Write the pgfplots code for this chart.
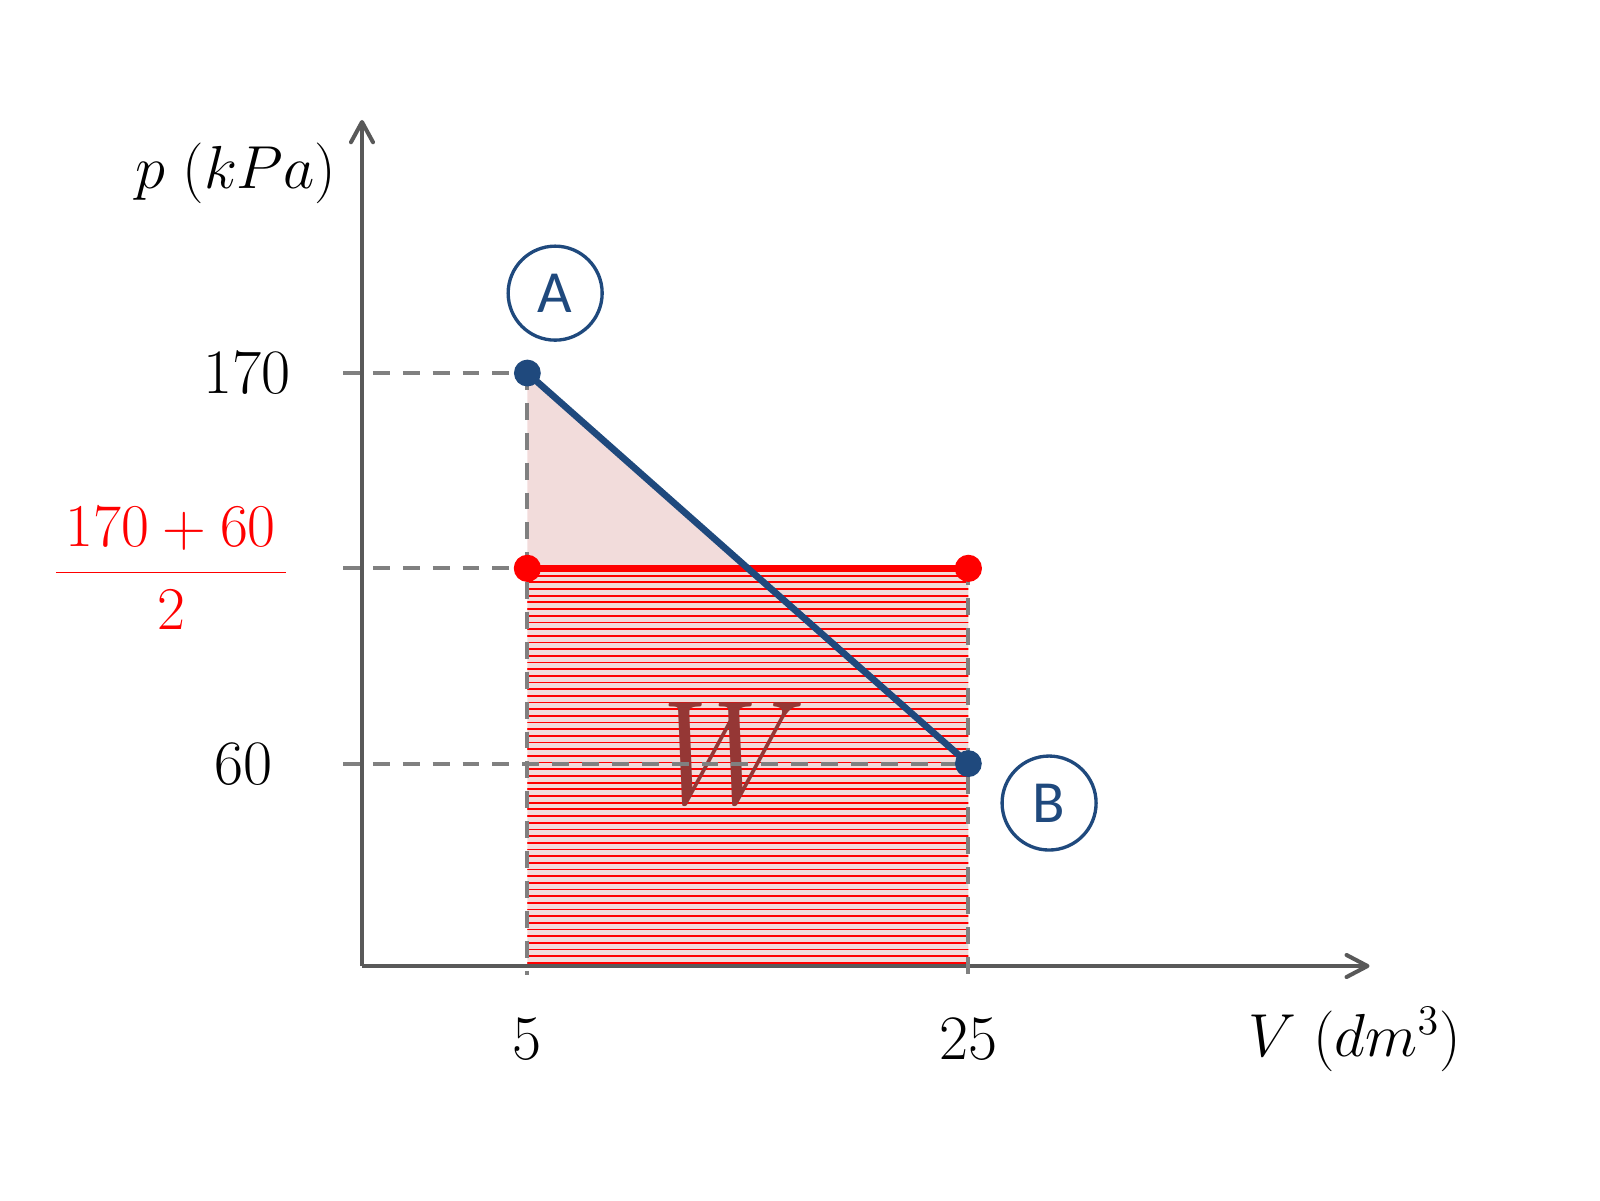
\documentclass[border=0pt]{standalone}
\usepackage{fontspec}
\newfontfamily\carlito{Carlito}
\usepackage{pgfplots}
\pgfplotsset{compat=1.18}
\usetikzlibrary{patterns}
\pgfdeclarepatternformonly{densehlines}{\pgfqpoint{-0.1pt}{0pt}}{\pgfqpoint{3.1pt}{1.9pt}}{\pgfqpoint{3pt}{1.9pt}}{\pgfsetlinewidth{0.5pt}\pgfpathmoveto{\pgfqpoint{-0.1pt}{0.95pt}}\pgfpathlineto{\pgfqpoint{3.1pt}{0.95pt}}\pgfusepath{stroke}}
\definecolor{axgray}{HTML}{595959}
\definecolor{dashgray}{HTML}{808080}
\definecolor{pinkfill}{HTML}{F2DCDB}
\definecolor{dblue}{HTML}{1F497D}
\definecolor{wred}{HTML}{953735}
\begin{document}
\begin{tikzpicture}
\path[use as bounding box] (-3.62,-2.34) rectangle (12.38,9.66);
\begin{axis}[
  at={(0,0)}, anchor=south west,
  x=0.2205cm, y=0.03551cm,
  xmin=-2.5, xmax=43.1, ymin=3, ymax=240.7,
  axis lines=none,
  clip=false,
]
\addplot[fill=pinkfill, draw=none] coordinates {(5,170) (5,115) (15,115) (5,170)};
\addplot[fill=pinkfill, draw=none] coordinates {(5,3) (25,3) (25,115) (5,115) (5,3)};
\addplot[draw=none, pattern=densehlines, pattern color=red] coordinates {(5,3) (25,3) (25,115) (5,115) (5,3)};
\node[text=wred, font=\fontsize{42}{48}\selectfont\itshape, inner sep=0pt] at (axis cs:13.3,62.4) {W};
% axes with open arrow heads
\addplot[draw=axgray, line width=1.15pt] coordinates {(-2.5,3) (43.05,3)};
\addplot[draw=axgray, line width=1.15pt] coordinates {(-2.5,3) (-2.5,240.5)};
\addplot[draw=axgray, line width=1.15pt, line join=round, line cap=round] coordinates {(42.15,6.1) (43.1,3) (42.15,-0.1)};
\addplot[draw=axgray, line width=1.15pt, line join=round, line cap=round] coordinates {(-3.0,235.0) (-2.5,240.7) (-2.0,235.0)};
% dashed guide lines
\addplot[draw=dashgray, line width=1.15pt, dash pattern=on 4.8pt off 3.7pt] coordinates {(-3.36,170) (5,170)};
\addplot[draw=dashgray, line width=1.15pt, dash pattern=on 4.8pt off 3.7pt] coordinates {(-3.36,115) (5,115)};
\addplot[draw=dashgray, line width=1.15pt, dash pattern=on 4.8pt off 3.7pt] coordinates {(-3.36,60) (25,60)};
\addplot[draw=dashgray, line width=1.15pt, dash pattern=on 4.8pt off 3.7pt] coordinates {(5,170) (5,0.5)};
\addplot[draw=dashgray, line width=1.15pt, dash pattern=on 4.8pt off 3.7pt] coordinates {(25,115) (25,0.5)};
% average pressure and process A-B
\addplot[draw=red, line width=2pt, mark=*, mark size=2.85pt, mark options={fill=red, draw=red}] coordinates {(5,115) (25,115)};
\addplot[draw=dblue, line width=1.9pt, mark=*, mark size=2.85pt, mark options={fill=dblue, draw=dblue}] coordinates {(5,170) (25,60)};
% tick labels and axis labels
\node[font=\fontsize{18}{22}\selectfont, anchor=east, inner sep=0pt] at (axis cs:-5.72,170) {170};
\node[font=\fontsize{18}{22}\selectfont, anchor=east, inner sep=0pt] at (axis cs:-6.54,60) {60};
\node[font=\fontsize{18}{22}\selectfont, anchor=east, inner sep=0pt, text=red] at (axis cs:-5.72,115) {${\displaystyle\frac{\,170+60\,}{2}}$};
\node[font=\fontsize{18}{22}\selectfont, anchor=center, inner sep=0pt] at (axis cs:5,-17.6) {5};
\node[font=\fontsize{18}{22}\selectfont, anchor=center, inner sep=0pt] at (axis cs:25,-17.6) {25};
\node[font=\fontsize{18}{22}\selectfont, anchor=center, inner sep=0pt] at (axis cs:42.53,-17.6) {$V\;(dm^3)$};
\node[font=\fontsize{18}{22}\selectfont, anchor=center, inner sep=0pt] at (axis cs:-8.21,226.3) {$p\;(kPa)$};
% state labels
\node[circle, draw=dblue, line width=0.95pt, minimum size=0.94cm, inner sep=0pt, text=dblue, font=\carlito\fontsize{17}{20}\selectfont] at (axis cs:6.26,192.5) {A};
\node[circle, draw=dblue, line width=0.95pt, minimum size=0.94cm, inner sep=0pt, text=dblue, font=\carlito\fontsize{17}{20}\selectfont] at (axis cs:28.66,48.9) {B};
\end{axis}
\end{tikzpicture}
\end{document}
